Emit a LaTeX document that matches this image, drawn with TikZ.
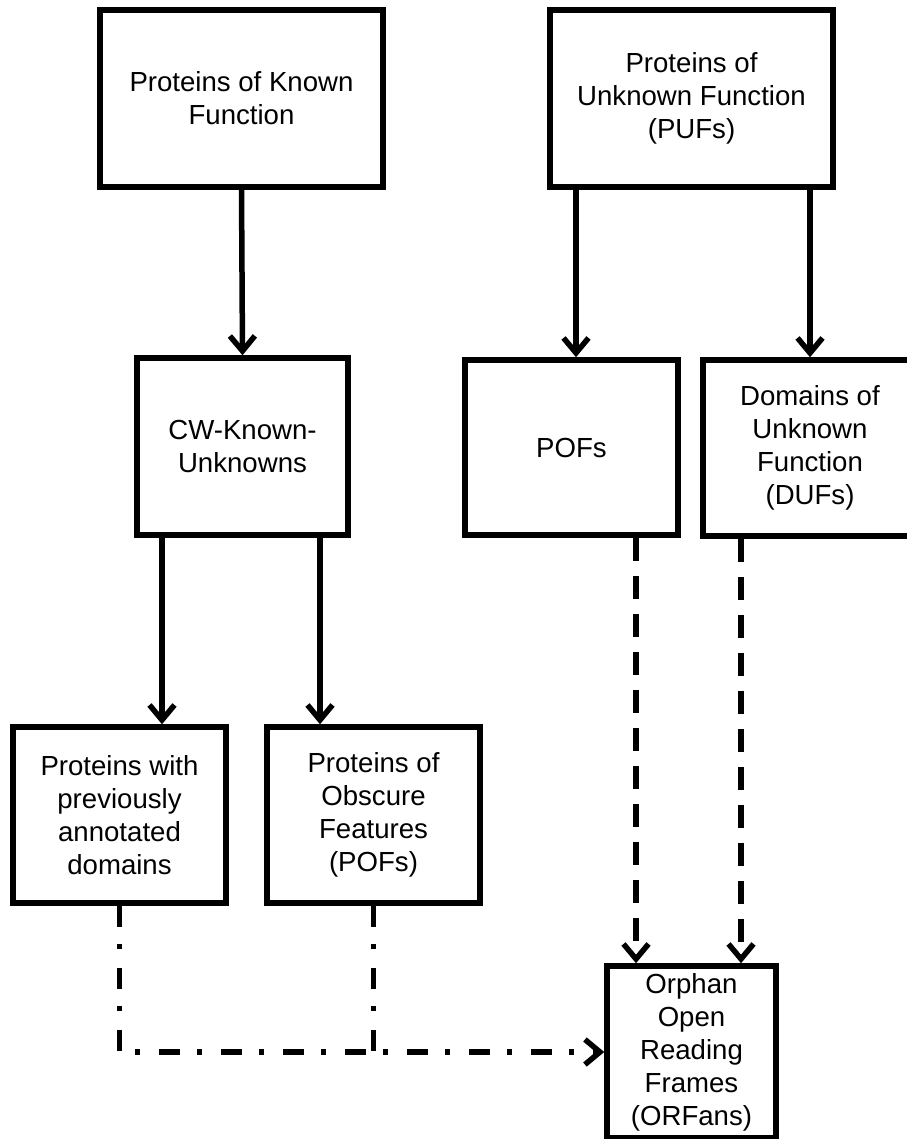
\documentclass[tikz,border=0pt]{standalone}
\usepackage{fontspec}
\setmainfont{Liberation Sans}
\usetikzlibrary{arrows.meta}
\begin{document}
\begin{tikzpicture}[x=1pt,y=-1pt,
  box/.style={draw, line width=5.5pt, align=center, inner sep=0pt, fill=white,
    font=\fontsize{27.6}{33}\selectfont},
  tip/.style={-{Straight Barb[length=15pt,width=25pt]}},
  arr/.style={line width=5.5pt, tip},
  dsh/.style={arr, dash pattern=on 23pt off 15pt},
  dd/.style={line width=5.5pt, dash pattern=on 21pt off 17pt on 5pt off 19pt}]
\useasboundingbox (0,0) rectangle (906,1139);
\node[box, minimum width=283pt, minimum height=177pt] (b1) at (241.5,98.5) {Proteins of Known\\Function};
\node[box, minimum width=283pt, minimum height=177pt] (b2) at (691.5,98.5) {Proteins of\\Unknown Function\\(PUFs)};
\node[box, minimum width=211pt, minimum height=177pt] (cw) at (242.5,446.5) {CW-Known-\\Unknowns};
\node[box, minimum width=213pt, minimum height=175pt] (pofs) at (571.5,447.5) {POFs};
\node[box, minimum width=214pt, minimum height=176pt] (dufs) at (810,448) {Domains of\\Unknown\\Function\\(DUFs)};
\node[box, minimum width=213pt, minimum height=176pt] (b6) at (119.5,815) {Proteins with\\previously\\annotated\\domains};
\node[box, minimum width=213pt, minimum height=176pt] (b7) at (373.5,815) {Proteins of\\Obscure\\Features\\(POFs)};
\node[box, minimum width=169pt, minimum height=172pt] (orf) at (691.5,1052) {Orphan\\Open\\Reading\\Frames\\(ORFans)};
\coordinate (xa) at (576,0);
\coordinate (xb) at (810,0);
\coordinate (xc) at (162,0);
\coordinate (xd) at (320,0);
\coordinate (xe) at (636,0);
\coordinate (xf) at (741,0);
\draw[arr] (b1.south) -- (cw.north);
\draw[arr] (b2.south -| xa) -- (pofs.north -| xa);
\draw[arr] (b2.south -| xb) -- (dufs.north -| xb);
\draw[arr] (cw.south -| xc) -- (b6.north -| xc);
\draw[arr] (cw.south -| xd) -- (b7.north -| xd);
\draw[dsh] (pofs.south -| xe) -- (orf.north -| xe);
\draw[dsh] (dufs.south -| xf) -- (orf.north -| xf);
\draw[dd, tip] (b6.south) |- (orf.west);
\draw[dd] (b7.south) -- (b7.south |- orf.west);
\end{tikzpicture}
\end{document}
